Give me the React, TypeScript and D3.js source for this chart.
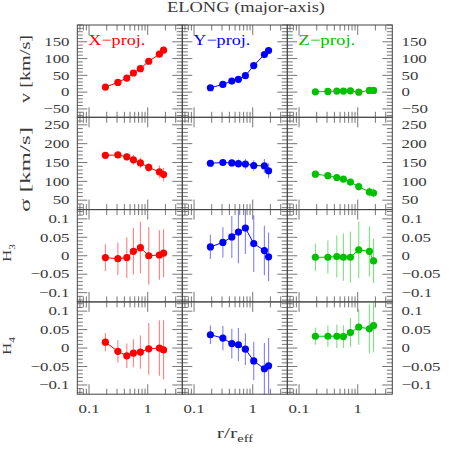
import React from 'react';
import * as d3 from 'd3';

// ---------------- data ----------------
const radii = [0.19, 0.31, 0.44, 0.57, 0.75, 1.04, 1.58, 1.86];
const projections = ['X\u2212proj.', 'Y\u2212proj.', 'Z\u2212proj.'];
const projColors = ['#ff0000', '#0000ff', '#00c000'];

// v [km/s]
const vX = [15, 29, 42, 57, 70, 92, 113, 125];
const vXerr = [3, 3, 4, 4, 5, 6, 9, 10];
const vY = [13, 23, 33, 38, 49, 79, 112, 124];
const vYerr = [3, 3, 4, 4, 5, 7, 10, 11];
const vZ = [1, 2, 3, 3, 4, 0, 5, 5];
const vZerr = [2, 2, 2, 3, 3, 3, 4, 4];

// sigma [km/s]
const sX = [169, 170, 165, 157, 149, 137, 125, 118];
const sXerr = [5, 8, 10, 13, 14, 12, 17, 18];
const sY = [148, 150, 149, 147, 146, 142, 141, 128];
const sYerr = [5, 6, 9, 11, 13, 14, 18, 20];
const sZ = [119, 115, 110, 106, 98, 86, 72, 69];
const sZerr = [4, 5, 6, 8, 9, 11, 12, 12];

// H3
const h3X = [-0.005, -0.008, -0.005, 0.012, 0.022, 0.0, 0.002, 0.007];
const h3Xerr = [0.036, 0.044, 0.055, 0.063, 0.07, 0.078, 0.067, 0.065];
const h3Y = [0.024, 0.036, 0.051, 0.064, 0.075, 0.033, 0.014, -0.003];
const h3Yerr = [0.033, 0.041, 0.057, 0.084, 0.07, 0.077, 0.067, 0.066];
const h3Z = [-0.004, -0.004, -0.002, -0.004, -0.004, 0.016, 0.012, -0.014];
const h3Zerr = [0.037, 0.045, 0.057, 0.064, 0.069, 0.077, 0.068, 0.06];

// H4
const h4X = [0.016, -0.009, -0.021, -0.014, -0.011, -0.002, 0.0, -0.005];
const h4Xerr = [0.025, 0.03, 0.033, 0.038, 0.045, 0.07, 0.075, 0.08];
const h4Y = [0.036, 0.027, 0.012, 0.009, -0.003, -0.035, -0.056, -0.048];
const h4Yerr = [0.025, 0.033, 0.04, 0.045, 0.043, 0.052, 0.07, 0.075];
const h4Z = [0.032, 0.032, 0.032, 0.031, 0.042, 0.057, 0.052, 0.061];
const h4Zerr = [0.023, 0.029, 0.032, 0.031, 0.04, 0.048, 0.066, 0.071];

// axis ticks
const xMajor = [0.1, 1];
const xMinor = [0.07, 0.08, 0.09, 0.2, 0.3, 0.4, 0.5, 0.6, 0.7, 0.8, 0.9, 2, 3];
const xTickLabels = ['0.1', '1'];

const vTicks = [-50, 0, 50, 100, 150];
const vTickLabels = ['\u221250', '0', '50', '100', '150'];
const sTicks = [50, 100, 150, 200, 250];
const sTickLabels = ['50', '100', '150', '200', '250'];
const hTicks = [-0.1, -0.05, 0, 0.05, 0.1];
const hTickLabels = ['\u22120.1', '\u22120.05', '0', '0.05', '0.1'];

// ---------------- layout ----------------
const W = 458;
const LEFT = 77.3;
const COLW = 105;
const TOP = 25;
const ROWH = 92.3;
const FONT = "'Liberation Serif', 'Times New Roman', serif";
const INK = '#3a3a3a';

const rows = [
  { domain: [-75, 200], ticks: vTicks, labels: vTickLabels, minorStep: 10, series: [[vX, vXerr], [vY, vYerr], [vZ, vZerr]] },
  { domain: [25, 270], ticks: sTicks, labels: sTickLabels, minorStep: 10, series: [[sX, sXerr], [sY, sYerr], [sZ, sZerr]] },
  { domain: [-0.125, 0.125], ticks: hTicks, labels: hTickLabels, minorStep: 0.01, series: [[h3X, h3Xerr], [h3Y, h3Yerr], [h3Z, h3Zerr]] },
  { domain: [-0.125, 0.125], ticks: hTicks, labels: hTickLabels, minorStep: 0.01, series: [[h4X, h4Xerr], [h4Y, h4Yerr], [h4Z, h4Zerr]] },
];

function Txt({ x, y, size = 12.5, sx = 1.35, anchor = 'start', fill = INK, rot = 0, dy, children, len }: any) {
  return (
    <g transform={`translate(${x},${y}) rotate(${rot}) scale(${sx},1)`}>
      <text fontFamily={FONT} fontSize={size} textAnchor={anchor} fill={fill} dy={dy}
        textLength={len} lengthAdjust={len ? 'spacingAndGlyphs' : undefined}>{children}</text>
    </g>
  );
}

function minorTicks(domain: number[], step: number, majors: number[]) {
  const out: number[] = [];
  const start = Math.ceil(domain[0] / step - 1e-9);
  const end = Math.floor(domain[1] / step + 1e-9);
  for (let i = start; i <= end; i++) {
    const v = +(i * step).toFixed(6);
    if (!majors.some((m) => Math.abs(m - v) < step * 1e-3)) out.push(v);
  }
  return out;
}

function Panel({ r, c }: { r: number; c: number }) {
  const row = rows[r];
  const x0 = LEFT + c * COLW;
  const y0 = TOP + r * ROWH;
  const x = d3.scaleLog().domain([Math.pow(10, -1.2), Math.pow(10, 0.589)]).range([x0, x0 + COLW]);
  const y = d3.scaleLinear().domain(row.domain).range([y0 + ROWH, y0]);
  const [vals, errs] = row.series[c] as number[][];
  const color = projColors[c];
  const pts = radii.map((rr, i) => ({ r: rr, v: vals[i], e: errs[i] }));
  const line = d3.line<any>().x((d) => x(d.r)).y((d) => y(d.v));
  const minors = minorTicks(row.domain, row.minorStep, row.ticks);
  const clipId = `clip-${r}-${c}`;
  const MJ = 10, MN = 5.5;
  return (
    <g>
      <defs>
        <clipPath id={clipId}>
          <rect x={x0} y={y0} width={COLW} height={ROWH} />
        </clipPath>
      </defs>
      <g stroke="#666" strokeWidth={0.9}>
        {xMajor.map((t) => (
          <g key={'xm' + t}>
            <line x1={x(t)} x2={x(t)} y1={y0} y2={y0 + MJ} />
            <line x1={x(t)} x2={x(t)} y1={y0 + ROWH} y2={y0 + ROWH - MJ} />
          </g>
        ))}
        {xMinor.map((t) => (
          <g key={'xn' + t}>
            <line x1={x(t)} x2={x(t)} y1={y0} y2={y0 + MN} />
            <line x1={x(t)} x2={x(t)} y1={y0 + ROWH} y2={y0 + ROWH - MN} />
          </g>
        ))}
        {row.ticks.map((t) => (
          <g key={'ym' + t}>
            <line x1={x0} x2={x0 + MJ} y1={y(t)} y2={y(t)} />
            <line x1={x0 + COLW} x2={x0 + COLW - MJ} y1={y(t)} y2={y(t)} />
          </g>
        ))}
        {minors.map((t) => (
          <g key={'yn' + t}>
            <line x1={x0} x2={x0 + MN} y1={y(t)} y2={y(t)} />
            <line x1={x0 + COLW} x2={x0 + COLW - MN} y1={y(t)} y2={y(t)} />
          </g>
        ))}
      </g>
      <rect x={x0} y={y0} width={COLW} height={ROWH} fill="none" stroke="#444" strokeWidth={1} />
      <g clipPath={`url(#${clipId})`}>
        {pts.map((p, i) => (
          <line key={'e' + i} x1={x(p.r)} x2={x(p.r)} y1={y(p.v - p.e)} y2={y(p.v + p.e)}
            stroke={color} strokeOpacity={0.5} strokeWidth={1.1} />
        ))}
        <path d={line(pts) || ''} fill="none" stroke={color} strokeWidth={1} />
        {pts.map((p, i) => (
          <circle key={'p' + i} cx={x(p.r)} cy={y(p.v)} r={3.6} fill={color} />
        ))}
      </g>
      {r === 0 && (
        <Txt x={x0 + 11} y={y0 + 19.5} size={15} sx={1} fill={color} len={57}>{projections[c]}</Txt>
      )}
      {r === 3 &&
        xMajor.map((t, i) => (
          <Txt key={'xl' + t} x={x(t)} y={413} anchor="middle">{xTickLabels[i]}</Txt>
        ))}
    </g>
  );
}

export default function App() {
  const yAxisLabels = rows.map((row, r) => {
    const y = d3.scaleLinear().domain(row.domain).range([TOP + (r + 1) * ROWH, TOP + r * ROWH]);
    return (
      <g key={'yl' + r}>
        {row.ticks.map((t, i) => (
          <g key={t}>
            <Txt x={69.5} y={y(t)} anchor="end" dy="0.34em">{row.labels[i]}</Txt>
            <Txt x={401.5} y={y(t)} anchor="start" dy="0.34em">{row.labels[i]}</Txt>
          </g>
        ))}
      </g>
    );
  });
  return (
    <svg width={W} height={W} style={{ position: 'absolute', left: 0, top: 0, background: '#fff' }}>
      <rect width={W} height={W} fill="#fff" />
      <Txt x={246} y={12} size={14} sx={1} anchor="middle" len={158}>ELONG (major-axis)</Txt>
      {yAxisLabels}
      {rows.map((_, r) => [0, 1, 2].map((c) => <Panel key={r + '-' + c} r={r} c={c} />))}
      <Txt x={30} y={69} size={14.5} sx={1} rot={-90} anchor="middle" len={68}>v  [km/s]</Txt>
      <Txt x={30} y={169.5} size={14.5} sx={1} rot={-90} anchor="middle" len={85}>{'\u03c3 [km/s]'}</Txt>
      <g transform={`translate(11,253) rotate(-90) scale(1.25,1)`}>
        <text fontFamily={FONT} fontSize={13.5} fill={INK} textAnchor="middle">
          H<tspan fontSize={9} dy={3.5}>3</tspan>
        </text>
      </g>
      <g transform={`translate(11,346) rotate(-90) scale(1.25,1)`}>
        <text fontFamily={FONT} fontSize={13.5} fill={INK} textAnchor="middle">
          H<tspan fontSize={9} dy={3.5}>4</tspan>
        </text>
      </g>
      <g transform={`translate(235,438) scale(1.45,1)`}>
        <text fontFamily={FONT} fontSize={15} fill={INK} textAnchor="middle">
          r/r<tspan fontSize={10} dy={3.5}>eff</tspan>
        </text>
      </g>
    </svg>
  );
}
